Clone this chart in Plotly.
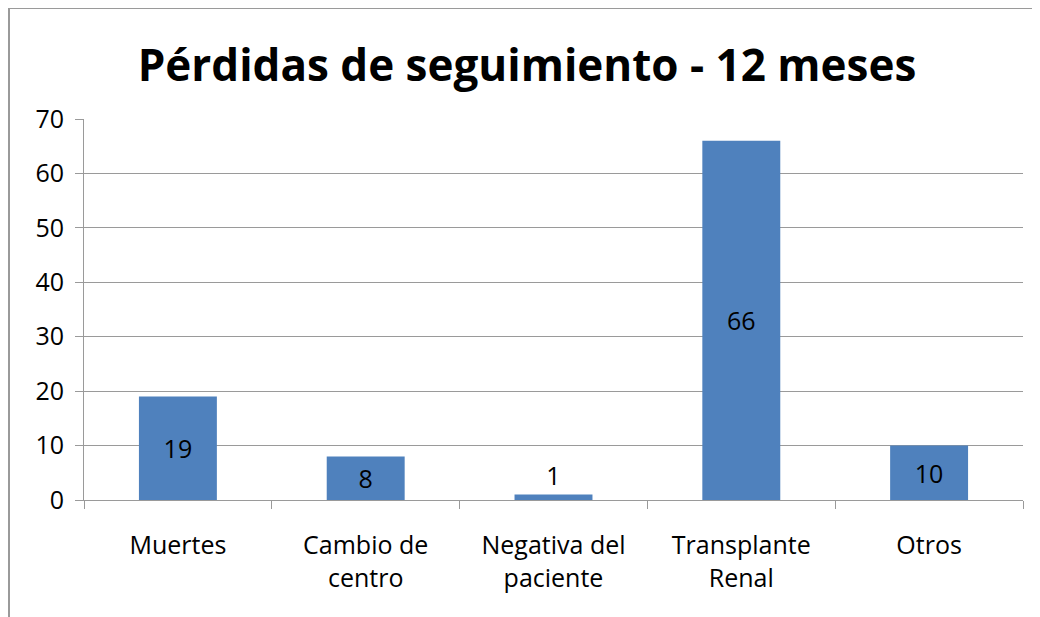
import plotly.graph_objects as go

categories = ["Muertes", "Cambio de<br>centro", "Negativa del<br>paciente", "Transplante<br>Renal", "Otros"]
values = [19, 8, 1, 66, 10]
text_positions = ["inside", "inside", "outside", "inside", "inside"]
y_ticks = [0, 10, 20, 30, 40, 50, 60, 70]

FONT = "Open Sans"
GRID = "#9A9A9A"
# page body has an 8px margin: figure is sized/offset to compensate
W, H = 1032, 609
L, R, T, B = 76, 17, 111, 117
PW, PH = W - L - R, H - T - B

fig = go.Figure(
    go.Bar(
        x=categories,
        y=values,
        text=[str(v) for v in values],
        textposition=text_positions,
        insidetextanchor="middle",
        textangle=0,
        textfont=dict(family=FONT, size=25, color="#000000"),
        outsidetextfont=dict(family=FONT, size=25, color="#000000"),
        insidetextfont=dict(family=FONT, size=25, color="#000000"),
        marker=dict(color="#4F81BD", line=dict(width=0)),
        width=0.415,
        cliponaxis=False,
    )
)

fig.update_layout(
    width=W,
    height=H,
    margin=dict(l=L, r=R, t=T, b=B),
    paper_bgcolor="#FBEFF2",
    plot_bgcolor="#FFFFFF",
    showlegend=False,
    title=dict(
        text="<b>Pérdidas de seguimiento - 12 meses</b>",
        x=519 / W,
        xanchor="center",
        y=1 - 58 / H,
        yanchor="middle",
        font=dict(family=FONT, size=44, color="#000000"),
    ),
    xaxis=dict(
        showline=True,
        linecolor=GRID,
        linewidth=1,
        ticks="outside",
        tickson="boundaries",
        ticklen=8,
        tickcolor=GRID,
        showgrid=False,
        ticklabelstandoff=23,
        tickfont=dict(family=FONT, size=25, color="#000000"),
        fixedrange=True,
    ),
    yaxis=dict(
        range=[0, 70],
        tickvals=y_ticks,
        showline=True,
        linecolor=GRID,
        linewidth=1,
        ticks="outside",
        ticklen=8,
        tickcolor=GRID,
        showgrid=True,
        gridcolor=GRID,
        gridwidth=1,
        zeroline=False,
        ticklabelstandoff=6,
        tickfont=dict(family=FONT, size=25, color="#000000"),
        fixedrange=True,
    ),
    shapes=[
        dict(
            type="rect",
            xref="paper",
            yref="paper",
            x0=(1 - L) / PW,
            x1=1.1,
            y0=-0.4,
            y1=(T - 0) / PH + 1,
            fillcolor="#FFFFFF",
            line=dict(color="#9A9A9A", width=2),
            layer="below",
        )
    ],
)

fig.write_html("out.html")
